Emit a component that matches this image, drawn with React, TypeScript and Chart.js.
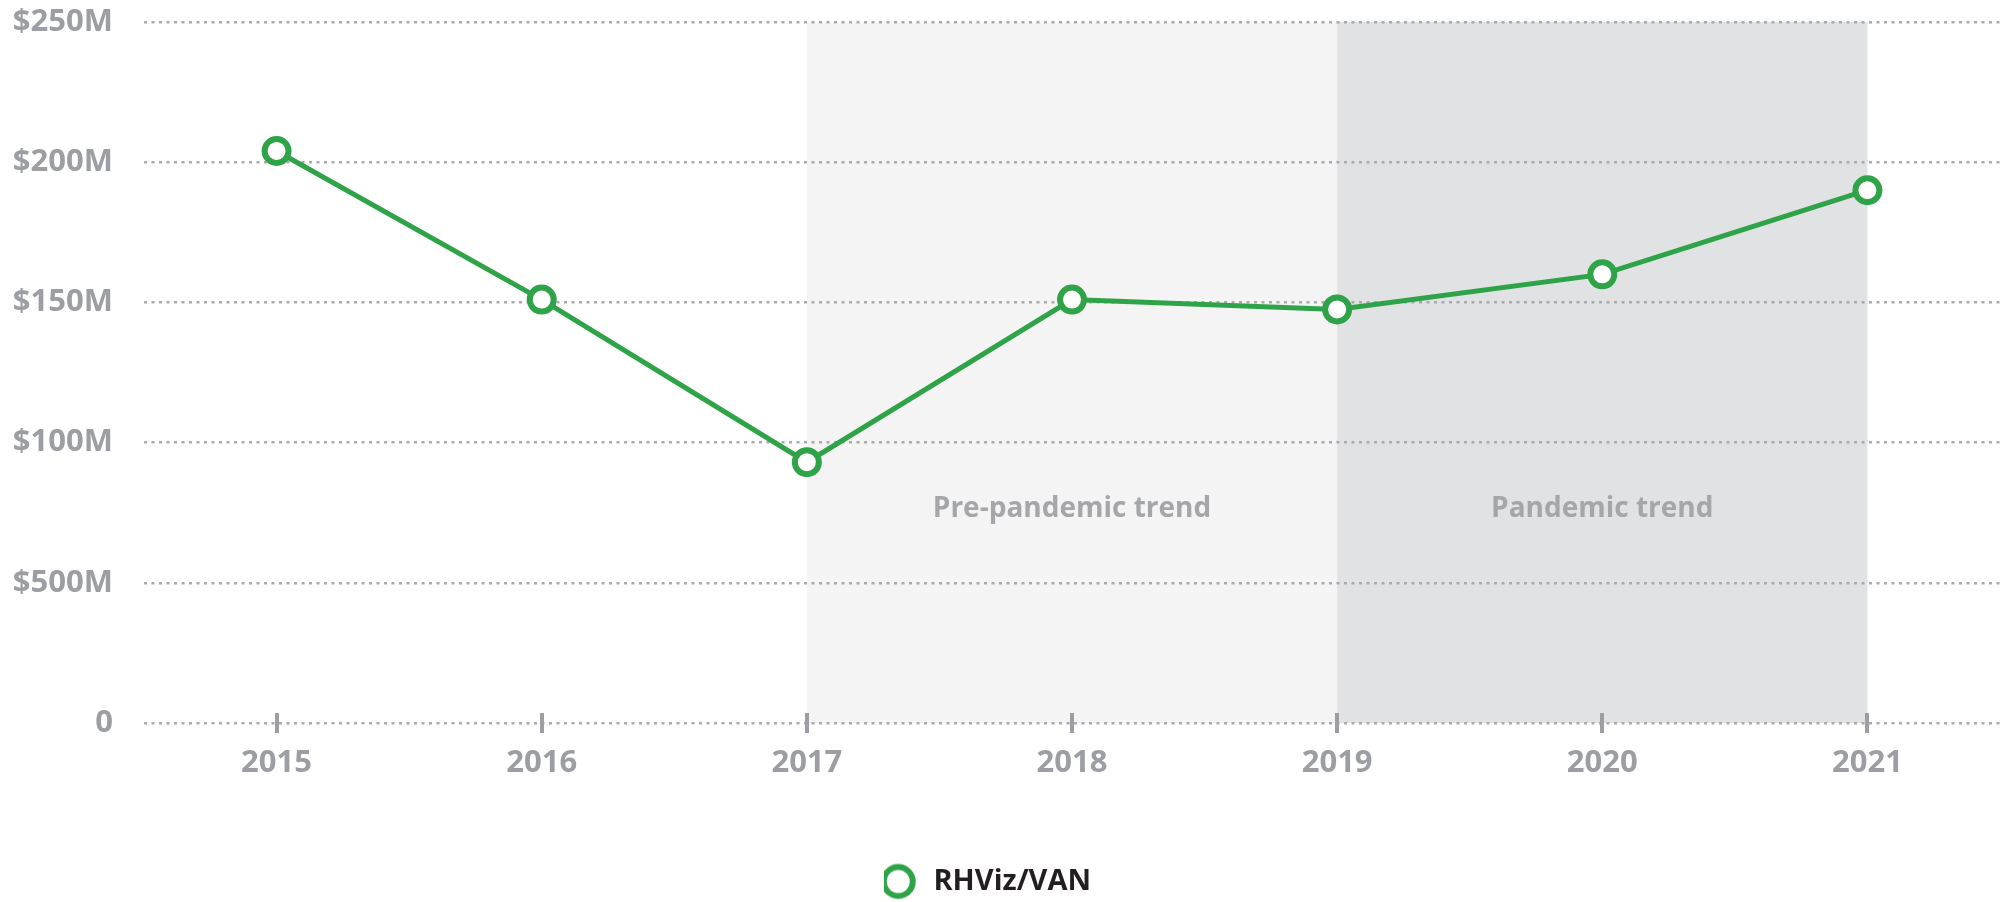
import React, { useEffect, useRef } from 'react';
import { Chart, registerables } from 'chart.js';

Chart.register(...registerables);

// ---- data ----
const YEARS = ['2015', '2016', '2017', '2018', '2019', '2020', '2021'];
const RHVIZ_VAN = [204, 151, 93, 151, 147.5, 160, 190];
const SERIES_LABEL = 'RHViz/VAN';
const Y_MIN = 0;
const Y_MAX = 250;
const Y_STEP = 50;
const Y_TICK_LABELS = ['0', '$500M', '$100M', '$150M', '$200M', '$250M'];
const BAND_FROM = ['2017', '2019'];
const BAND_TO = ['2019', '2021'];
const BAND_TEXT = ['Pre-pandemic trend', 'Pandemic trend'];
const BAND_TEXT_AT = ['2018', '2020'];
const BAND_TEXT_VALUE = 73.5;

// ---- styles ----
const GREEN = '#2fa347';
const AXIS_GREY = '#9c9ea3';
const GRID_GREY = '#a9aaae';
const BAND_COLORS = ['#f4f4f4', '#e1e2e4'];
const BAND_TEXT_COLOR = '#a4a6aa';
const FONT = "'Open Sans', 'DejaVu Sans', sans-serif";

function makeLegendMarker(): HTMLCanvasElement {
  const c = document.createElement('canvas');
  c.width = 60;
  c.height = 40;
  const g = c.getContext('2d')!;
  g.beginPath();
  g.arc(14.25, 20, 14.5, 0, Math.PI * 2);
  g.fillStyle = '#ffffff';
  g.fill();
  g.lineWidth = 6;
  g.strokeStyle = GREEN;
  g.stroke();
  return c;
}

const decorPlugin = {
  id: 'decor',
  beforeDraw(chart: any) {
    const { ctx, chartArea, scales } = chart;
    const x = scales.x;
    const y = scales.y;
    const y0 = y.getPixelForValue(Y_MIN);
    ctx.save();
    BAND_FROM.forEach((from, i) => {
      const x1 = x.getPixelForValue(YEARS.indexOf(from));
      const x2 = x.getPixelForValue(YEARS.indexOf(BAND_TO[i]));
      ctx.fillStyle = BAND_COLORS[i];
      ctx.fillRect(x1, chartArea.top, x2 - x1, y0 - chartArea.top);
    });
    ctx.restore();
  },
  beforeDatasetsDraw(chart: any) {
    const { ctx, scales } = chart;
    const x = scales.x;
    const y = scales.y;
    const y0 = y.getPixelForValue(Y_MIN);
    ctx.save();
    ctx.fillStyle = AXIS_GREY;
    x.ticks.forEach((_t: any, i: number) => {
      const px = x.getPixelForTick(i);
      ctx.fillRect(Math.round(px) - 2, y0 - 10, 4, 20);
    });
    ctx.font = `bold 28px ${FONT}`;
    ctx.fillStyle = BAND_TEXT_COLOR;
    ctx.textAlign = 'center';
    ctx.textBaseline = 'alphabetic';
    BAND_TEXT.forEach((t, i) => {
      const px = x.getPixelForValue(YEARS.indexOf(BAND_TEXT_AT[i]));
      ctx.fillText(t, px, y.getPixelForValue(BAND_TEXT_VALUE));
    });
    ctx.restore();
  },
};

function zeroPadding(s: any) {
  s.paddingTop = 0;
  s.paddingBottom = 0;
  s.paddingLeft = 0;
  s.paddingRight = 0;
}

export default function App() {
  const ref = useRef<HTMLCanvasElement | null>(null);

  useEffect(() => {
    document.body.style.margin = '0';
    const canvas = ref.current;
    if (!canvas) return;
    const marker = makeLegendMarker();
    const chart = new Chart(canvas, {
      type: 'line',
      data: {
        labels: YEARS,
        datasets: [
          {
            label: SERIES_LABEL,
            data: RHVIZ_VAN,
            borderColor: GREEN,
            backgroundColor: '#ffffff',
            borderWidth: 5,
            pointRadius: 12,
            pointHoverRadius: 12,
            pointBorderWidth: 6,
            pointBackgroundColor: '#ffffff',
            pointBorderColor: GREEN,
            tension: 0,
            fill: false,
            clip: false,
          },
        ],
      },
      options: {
        responsive: false,
        animation: false,
        layout: { autoPadding: false, padding: { top: 22, bottom: -4, left: 0, right: 0 } },
        plugins: {
          tooltip: { enabled: false },
          legend: {
            display: true,
            position: 'bottom',
            labels: {
              usePointStyle: true,
              pointStyle: marker as any,
              boxWidth: 10,
              padding: 10,
              color: '#231f20',
              font: { family: FONT, size: 29, weight: 'bold' },
            },
          },
        },
        scales: {
          x: {
            type: 'category',
            offset: true,
            grid: { display: false, drawTicks: false },
            border: { display: false },
            ticks: {
              autoSkip: false,
              maxRotation: 0,
              padding: 22,
              color: AXIS_GREY,
              font: { family: FONT, size: 31, weight: 'bold' },
            },
            afterFit: (s: any) => {
              s.height = 134;
              zeroPadding(s);
            },
          },
          y: {
            min: Y_MIN,
            max: Y_MAX,
            grid: {
              drawTicks: false,
              color: GRID_GREY,
              lineWidth: 2.5,
            },
            border: { display: false, dash: [3, 4.5] },
            ticks: {
              stepSize: Y_STEP,
              padding: 31,
              color: AXIS_GREY,
              font: { family: FONT, size: 31, weight: 'bold' },
              callback: (_v: any, i: number) => Y_TICK_LABELS[i],
            },
            afterFit: (s: any) => {
              s.width = 144;
              zeroPadding(s);
            },
          },
        },
      },
      plugins: [decorPlugin],
    } as any);
    return () => chart.destroy();
  }, []);

  return (
    <div style={{ width: 2000, height: 902, overflow: 'hidden', background: '#fff' }}>
      <canvas ref={ref} width={2000} height={902} style={{ display: 'block' }} />
    </div>
  );
}
